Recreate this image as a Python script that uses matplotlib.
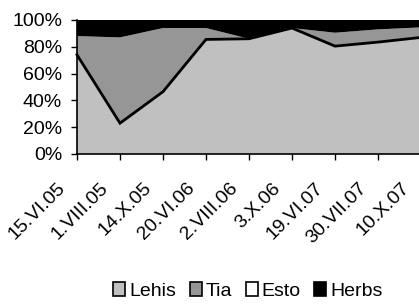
import matplotlib
matplotlib.use("Agg")
import matplotlib.pyplot as plt
from matplotlib.patches import Patch
from matplotlib.transforms import ScaledTranslation

dates = ["15.VI.05", "1.VIII.05", "14.X.05", "20.VI.06", "2.VIII.06",
         "3.X.06", "19.VI.07", "30.VII.07", "10.X.07"]
lehis = [74, 23, 46.5, 85.5, 86, 94, 80.5, 83.5, 87]
tia = [14, 64, 47.5, 8.5, 0, 0, 10, 9.5, 7.5]
esto = [0, 0, 0, 0, 0, 0, 0, 0, 0]
herbs = [12, 13, 6, 6, 14, 6, 9.5, 7, 5.5]

names = ["Lehis", "Tia", "Esto", "Herbs"]
colors = ["#C0C0C0", "#969696", "#FFFFFF", "#000000"]

plt.rcParams['font.family'] = ['Liberation Sans', 'DejaVu Sans']
FS = 14

fig = plt.figure(figsize=(4.19, 3.04), dpi=100)
ax = fig.add_axes([77/419, 1-154/304, 344/419, 134/304])

x = list(range(len(dates)))
ax.stackplot(x, lehis, tia, esto, herbs, colors=colors, linewidth=0)
ax.plot(x, lehis, color="black", lw=2, solid_joinstyle="miter", clip_on=False)

ax.set_xlim(0, len(dates) - 1)
ax.set_ylim(0, 100)
ax.set_yticks([0, 20, 40, 60, 80, 100])
ax.set_yticklabels([f"{v}%" for v in [0, 20, 40, 60, 80, 100]], fontsize=FS)
ax.set_xticks(x)
ax.set_xticklabels(dates, fontsize=FS, rotation=45, ha="right",
                   va="center", rotation_mode="anchor")
ax.tick_params(axis="y", direction="out", length=4.3, width=1, pad=6.5)
ax.tick_params(axis="x", direction="out", length=4, width=1, pad=0)
off = ScaledTranslation(-14/100, -26/100, fig.dpi_scale_trans)
for lab in ax.get_xticklabels():
    lab.set_transform(lab.get_transform() + off)
for s in ["top", "right"]:
    ax.spines[s].set_visible(False)
for s in ["left", "bottom"]:
    ax.spines[s].set_linewidth(1.2)
    ax.spines[s].set_zorder(5)

handles = [Patch(facecolor=c, edgecolor="black", linewidth=1.2) for c in colors]
fig.legend(handles, names, loc="center", bbox_to_anchor=(248/419, 1-291/304),
           ncol=4, frameon=False, fontsize=FS, handlelength=0.62,
           handleheight=0.7, handletextpad=0.2, columnspacing=0.7,
           borderpad=0, borderaxespad=0)

fig.savefig("out.png", dpi=100)
